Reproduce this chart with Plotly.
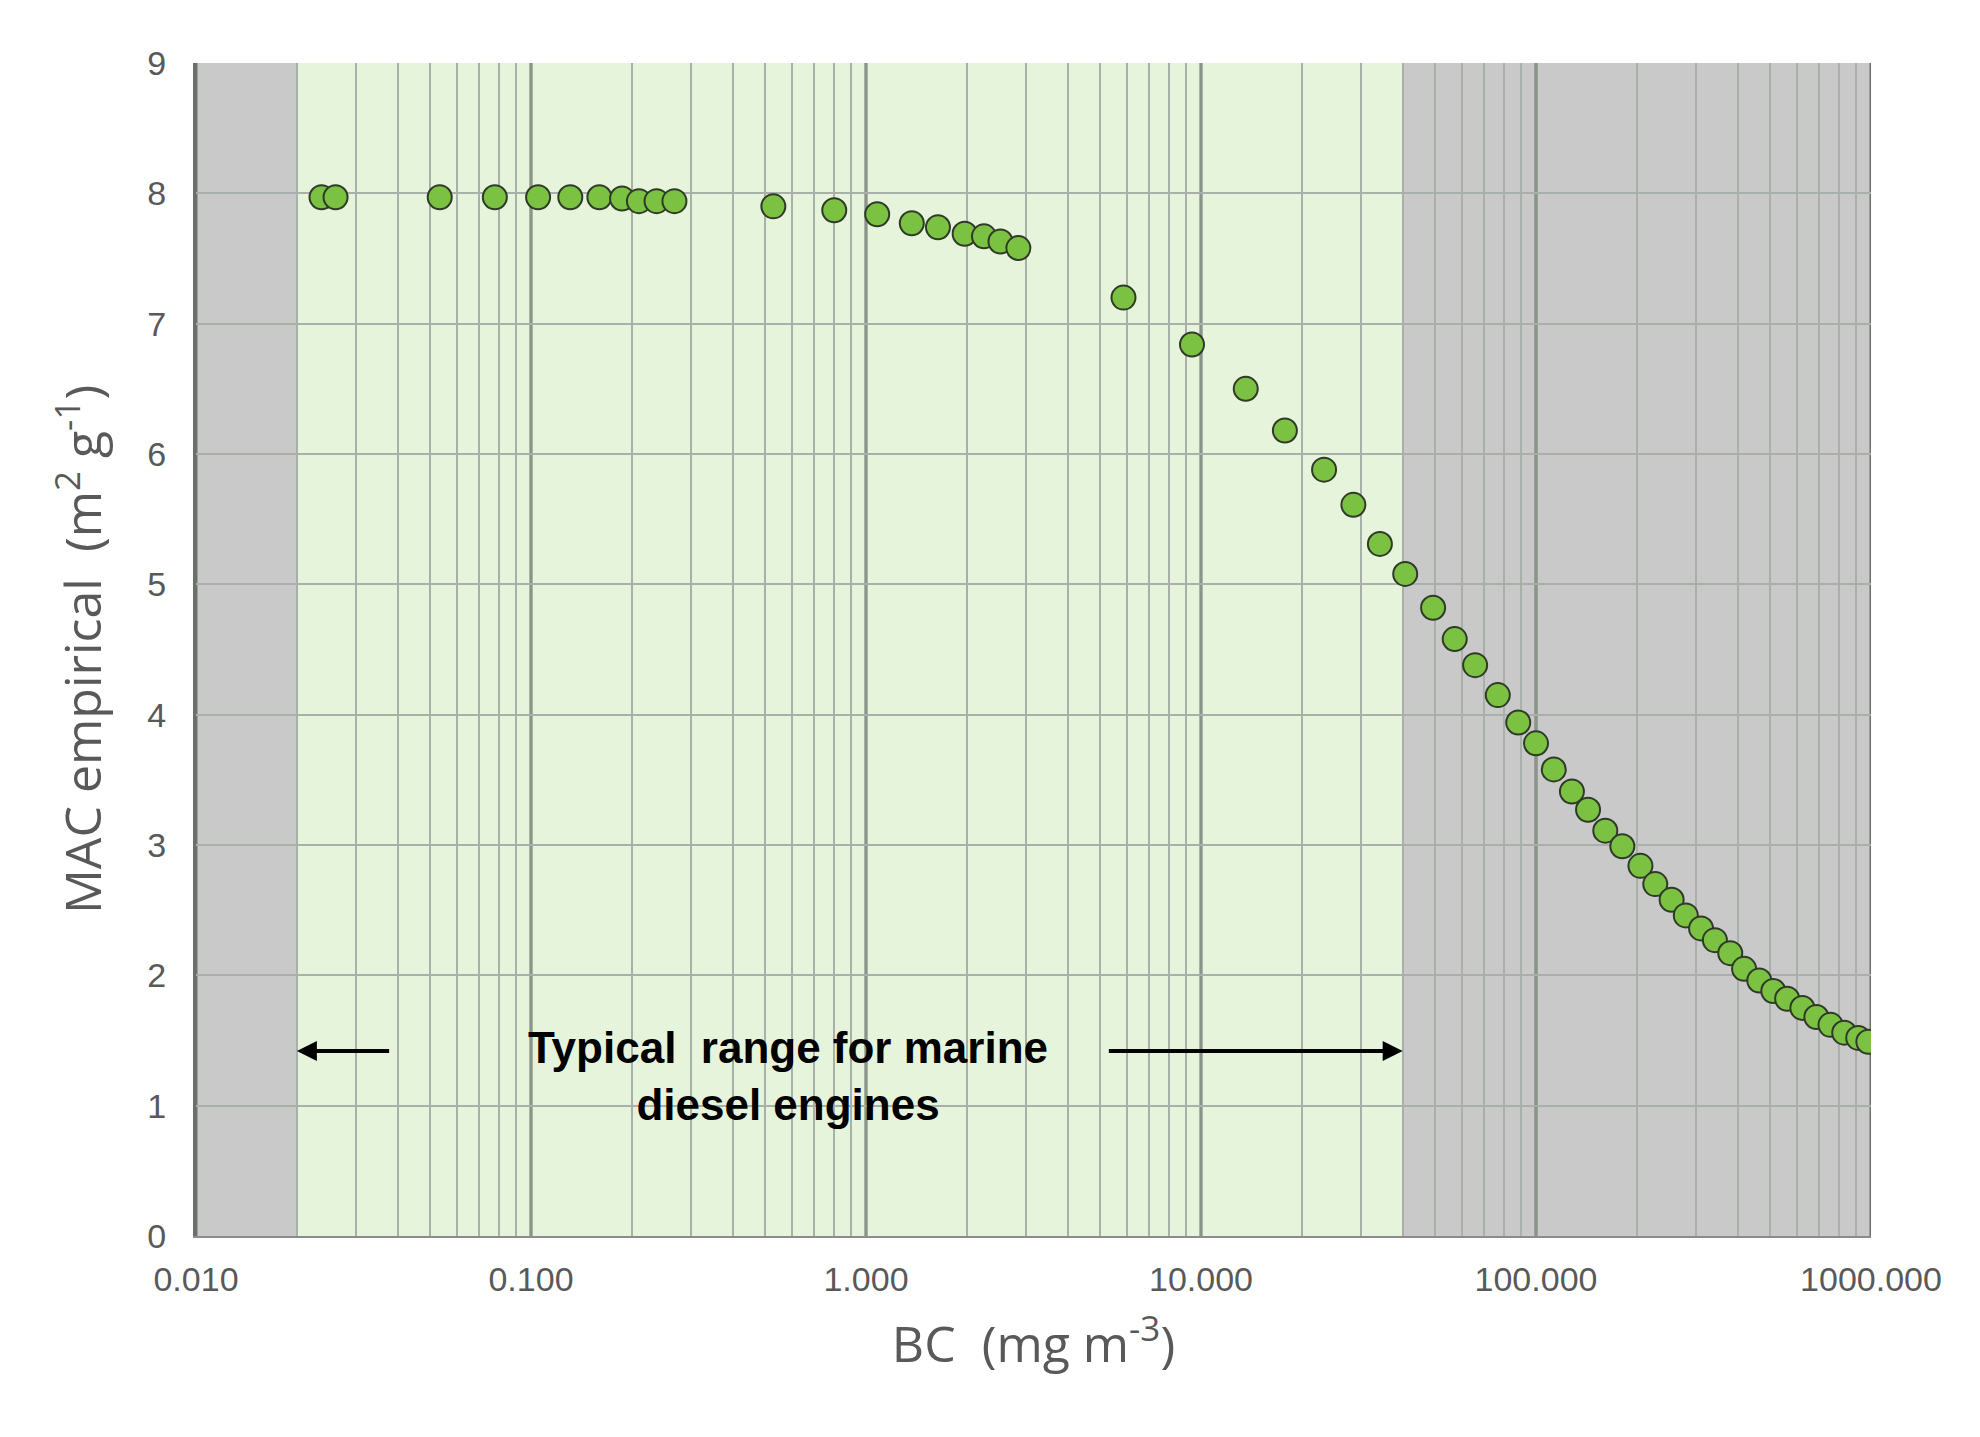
import math
import plotly.graph_objects as go

bc = [0.0237,0.0261,0.0534,0.078,0.105,0.131,0.160,0.187,0.210,0.237,0.268,0.529,0.804,1.08,1.37,1.64,1.97,2.25,2.52,2.85,
      5.87,9.4,13.6,17.8,23.3,28.5,34.2,40.7,49.3,57.2,65.8,76.9,88.5,100,113,128,143,161,181,205,227,254,280,311,342,380,418,
      464,511,562,624,687,757,832,916,982]
mac = [7.97,7.97,7.97,7.97,7.97,7.97,7.97,7.96,7.94,7.94,7.94,7.90,7.87,7.84,7.77,7.74,7.69,7.67,7.63,7.58,
       7.20,6.84,6.50,6.18,5.88,5.61,5.31,5.08,4.82,4.58,4.38,4.15,3.94,3.78,3.58,3.41,3.27,3.11,2.99,2.84,2.70,2.58,2.46,2.36,2.27,2.17,2.05,
       1.96,1.88,1.82,1.75,1.68,1.62,1.56,1.52,1.49]
xticks = [0.01,0.1,1,10,100,1000]
xticklabels = ["0.010","0.100","1.000","10.000","100.000","1000.000"]
range_lo, range_hi = 0.02, 40
L = math.log10

fig = go.Figure()
fig.add_trace(go.Scatter(x=bc, y=mac, mode="markers",
    marker=dict(size=24, color="#7cc242", line=dict(color="#2f3a28", width=2))))

gray = "#c9c9c9"
fig.add_shape(type="rect", xref="x", yref="y", x0=0.01, x1=range_lo, y0=0, y1=9, fillcolor=gray, line_width=0, layer="below")
fig.add_shape(type="rect", xref="x", yref="y", x0=range_lo, x1=range_hi, y0=0, y1=9, fillcolor="#e7f4dc", line_width=0, layer="below")
fig.add_shape(type="rect", xref="x", yref="y", x0=range_hi, x1=1000, y0=0, y1=9, fillcolor=gray, line_width=0, layer="below")
for xv in xticks:
    fig.add_shape(type="line", xref="x", yref="y", x0=xv, x1=xv, y0=0, y1=9, line=dict(color="#6a7466", width=3), layer="below")

fig.add_annotation(x=L(0.587), y=1.42, xref="x", yref="y", text="<b>Typical  range for marine<br>diesel engines</b>",
    showarrow=False, font=dict(family="Liberation Sans", size=44, color="black"), align="center", yanchor="top", yshift=30)
fig.add_annotation(x=L(range_lo), y=1.42, ax=L(0.0385), ay=1.42, xref="x", yref="y", axref="x", ayref="y",
    showarrow=True, arrowhead=2, arrowsize=1, arrowwidth=4, arrowcolor="black", text=" ")
fig.add_annotation(x=L(range_hi), y=1.42, ax=L(5.2), ay=1.42, xref="x", yref="y", axref="x", ayref="y",
    showarrow=True, arrowhead=2, arrowsize=1, arrowwidth=4, arrowcolor="black", text=" ")

fig.update_xaxes(type="log", range=[-2, 3], tickvals=xticks, ticktext=xticklabels,
    showgrid=True, gridcolor="#8a948a", gridwidth=2,
    minor=dict(showgrid=True, gridcolor="#a9b0a9", gridwidth=1.5, dtick="D1"),
    showline=True, linecolor="#8c8c8c", linewidth=2, zeroline=False, ticks="outside", ticklen=12, tickcolor="rgba(0,0,0,0)",
    tickfont=dict(family="Liberation Sans", size=34, color="#595959"),
    title=dict(text="BC  (mg m<sup>-3</sup>)", font=dict(family="Open Sans", size=50, color="#595959"), standoff=30))
fig.update_yaxes(range=[0, 9], dtick=1, showgrid=True, gridcolor="#a9b0a9", gridwidth=2,
    showline=True, linecolor="#6e6e6e", linewidth=3, zeroline=False, ticks="outside", ticklen=20, tickcolor="rgba(0,0,0,0)",
    tickfont=dict(family="Liberation Sans", size=34, color="#595959"),
    title=dict(text="MAC empirical  (m<sup>2</sup> g<sup>-1</sup>)", font=dict(family="Open Sans", size=50, color="#595959"), standoff=30))
fig.update_layout(width=1980, height=1437, showlegend=False, plot_bgcolor="white", paper_bgcolor="white",
    margin=dict(l=188, r=117, t=55, b=209))
fig.write_html("out.html")
